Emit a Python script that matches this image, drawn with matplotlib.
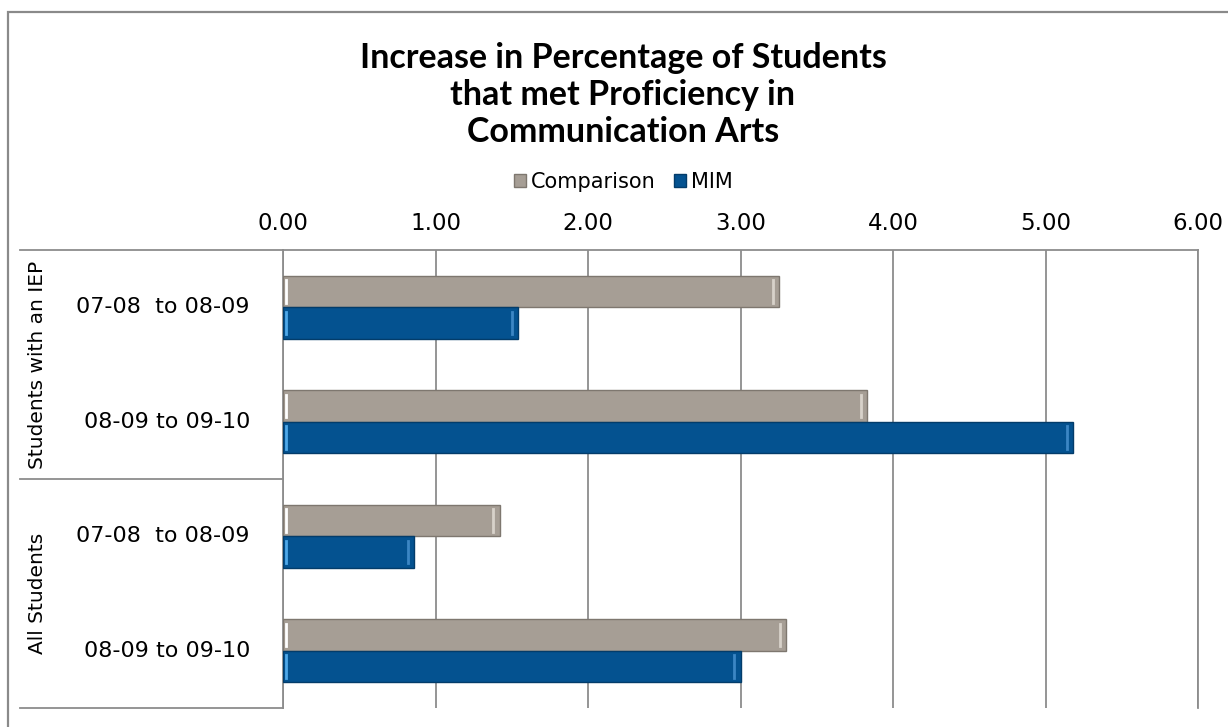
import matplotlib
matplotlib.use("Agg")
import matplotlib.pyplot as plt
import numpy as np
from matplotlib.patches import Rectangle
from matplotlib.lines import Line2D

# data (top to bottom as drawn)
groups = ["Students with an IEP", "All Students"]
periods = ["07-08  to 08-09", "08-09 to 09-10", "07-08  to 08-09", "08-09 to 09-10"]
comparison = [3.25, 3.83, 1.42, 3.30]
mim = [1.54, 5.18, 0.86, 3.00]
xticks = [0, 1, 2, 3, 4, 5, 6]

plt.rcParams["font.family"] = ["DejaVu Sans"]

C_COMP = "#A69E95"
C_MIM = "#045290"
GRID = "#8C8C8C"

fig = plt.figure(figsize=(12.28, 7.27), dpi=100)
W, H = 1228, 727

# outer chart border
fig.add_artist(Rectangle((8 / W, -0.01), 1.1, (727 - 12) / H + 0.01, transform=fig.transFigure,
                         fill=False, edgecolor="#8A8A8A", linewidth=1.6))

ax = fig.add_axes([283 / W, (H - 708) / H, (1198 - 283) / W, (708 - 250) / H])

n = len(periods)
y = np.arange(n)
h = 0.275
ax.barh(y - h / 2, comparison, height=h, color=C_COMP, edgecolor="#7E776F", linewidth=1.0, zorder=3)
ax.barh(y + h / 2, mim, height=h, color=C_MIM, edgecolor="#033C6A", linewidth=1.0, zorder=3)

# bevel highlights
for yi, v in zip(y, comparison):
    ax.plot([0.02, 0.02], [yi - h + 0.04, yi - 0.04], color="white", lw=2, zorder=4)
    ax.plot([v - 0.04, v - 0.04], [yi - h + 0.04, yi - 0.04], color="#D8D2CA", lw=2, zorder=4)
for yi, v in zip(y, mim):
    ax.plot([0.02, 0.02], [yi + 0.04, yi + h - 0.04], color="#4FA8E8", lw=2, zorder=4)
    ax.plot([v - 0.04, v - 0.04], [yi + 0.04, yi + h - 0.04], color="#3C86C4", lw=2, zorder=4)

ax.set_xlim(0, 6)
ax.set_ylim(n - 0.5, -0.5)
ax.set_xticks(xticks)
ax.set_xticklabels([f"{t:.2f}" for t in xticks], fontsize=16.5)
ax.xaxis.tick_top()
ax.tick_params(axis="x", length=0, pad=11)
ax.set_yticks([])
ax.grid(axis="x", color=GRID, linewidth=1.3, zorder=0)
for s in ["left", "top", "right"]:
    ax.spines[s].set_color(GRID)
    ax.spines[s].set_linewidth(1.3)
ax.spines["bottom"].set_visible(False)

# category labels
trans = ax.get_yaxis_transform()
pw = 1198 - 283
for yi, p in zip(y, periods):
    ax.text(-(283 - 250) / pw, yi, p, transform=trans, ha="right", va="center", fontsize=16)
for gi, g in enumerate(groups):
    ax.text(-(283 - 38) / pw, 2 * gi + 0.5, g, transform=trans, ha="center", va="center",
            rotation=90, fontsize=14.5)
for yb in [-0.5, 1.5, 3.5]:
    ax.add_line(Line2D([-(283 - 20) / pw, 0], [yb, yb], transform=trans,
                       color=GRID, linewidth=1.3, clip_on=False))

# title
fig.text(623 / W, 1 - 95 / H, "Increase in Percentage of Students\nthat met Proficiency in\nCommunication Arts",
         ha="center", va="center", fontsize=24.5, fontweight="bold", linespacing=1.2,
         family=["Lato", "DejaVu Sans"])

# legend
handles = [Rectangle((0, 0), 1, 1, facecolor=C_COMP, edgecolor="#7E776F"),
           Rectangle((0, 0), 1, 1, facecolor=C_MIM, edgecolor="#033C6A")]
fig.legend(handles, ["Comparison", "MIM"], loc="center", bbox_to_anchor=(623 / W, 1 - 182 / H),
           ncol=2, frameon=False, fontsize=15, handlelength=0.6, handleheight=0.6,
           handletextpad=0.2, columnspacing=0.9)

fig.savefig("out.png", dpi=100)
